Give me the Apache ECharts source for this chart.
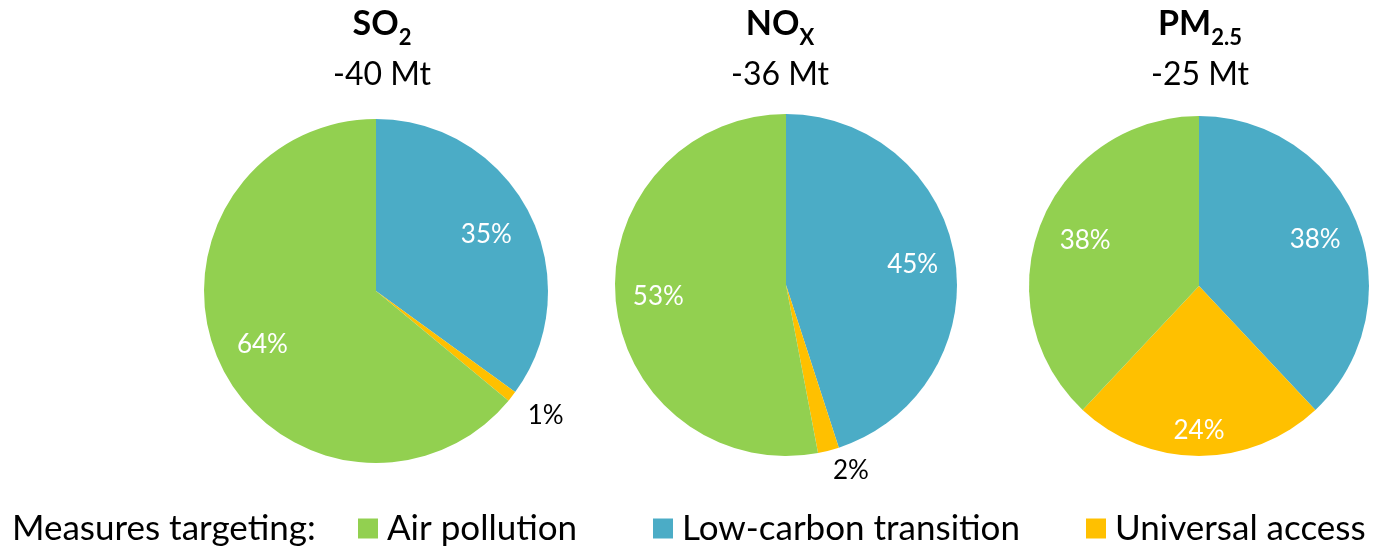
<!DOCTYPE html>
<html>
<head>
<meta charset="utf-8">
<script src="https://cdn.jsdelivr.net/npm/echarts@6/dist/echarts.min.js"></script>
<style>
  html, body { margin: 0; padding: 0; background: #ffffff; }
  #chart { width: 1384px; height: 550px; }
</style>
</head>
<body>
<div id="chart"></div>
<script>
// Measures, in the clockwise order the slices are drawn (from 12 o'clock)
const measures = ['Low-carbon transition', 'Universal access', 'Air pollution'];
const legendNames = ['Air pollution', 'Low-carbon transition', 'Universal access'];
const legendCaption = 'Measures targeting:';

// Pollutant titles: main part, subscript part, total reduction
const pollutantNames = ['SO', 'NO', 'PM'];
const pollutantSubs = ['2', 'X', '2.5'];
const reductions = ['-40 Mt', '-36 Mt', '-25 Mt'];

// Share of each pollutant's reduction by measure (%), same order as `measures`
const so2Shares = [35, 1, 64];
const noxShares = [45, 2, 53];
const pm25Shares = [38, 24, 38];
const shares = [so2Shares, noxShares, pm25Shares];

// ---- styling / layout ----
const FONT = 'Lato, "Open Sans", sans-serif';
const measureColors = {
  'Air pollution': '#92D050',
  'Low-carbon transition': '#4BACC6',
  'Universal access': '#FFC000'
};
const pies = [
  { cx: 376, cy: 291, r: 172, titleX: 382, labelR: [0.72, 1.225, 0.73], labelTurn: [0, -1.4, 0] },
  { cx: 786, cy: 285, r: 171, titleX: 780, labelR: [0.75, 1.15, 0.75], labelTurn: [0, -4.9, 0] },
  { cx: 1199, cy: 286, r: 170, titleX: 1200, labelR: [0.735, 0.85, 0.72], labelTurn: [0, 0, 0] }
];
const legendLefts = [358, 653, 1086];

// Moves each label along its slice's bisector to the wanted distance from the centre
function labelPlacer(p) {
  return function (params) {
    const rect = params.labelRect;
    const lx = rect.x + rect.width / 2;
    const ly = rect.y + rect.height / 2;
    const turn = (p.labelTurn[params.dataIndex] || 0) * Math.PI / 180;
    const ang = Math.atan2(lx - p.cx, -(ly - p.cy)) + turn;
    const dist = p.labelR[params.dataIndex] * p.r;
    return {
      dx: p.cx + dist * Math.sin(ang) - lx,
      dy: p.cy - dist * Math.cos(ang) - ly
    };
  };
}

const titleRich = {
  main: { fontFamily: FONT, fontSize: 34, fontWeight: 'bold', color: '#000', lineHeight: 50 },
  sub: { fontFamily: FONT, fontSize: 22, fontWeight: 'bold', color: '#000', lineHeight: 28, verticalAlign: 'bottom' },
  amt: { fontFamily: FONT, fontSize: 32, fontWeight: 'normal', color: '#000', lineHeight: 52 }
};

const titles = pies.map((p, i) => ({
  text: '{main|' + pollutantNames[i] + '}{sub|' + pollutantSubs[i] + '}\n{amt|' + reductions[i] + '}',
  left: p.titleX,
  top: -1,
  padding: 0,
  textAlign: 'center',
  textStyle: { fontWeight: 'normal', rich: titleRich }
}));
titles.push({
  text: legendCaption,
  left: 12,
  top: 511,
  padding: 0,
  textStyle: { fontFamily: FONT, fontSize: 35, fontWeight: 'normal', color: '#000' }
});

const legends = legendNames.map((name, i) => ({
  data: [name],
  left: legendLefts[i],
  top: 511,
  padding: 0,
  icon: 'rect',
  itemWidth: 20,
  itemHeight: 20,
  selectedMode: false,
  textStyle: { fontFamily: FONT, fontSize: 35, color: '#000', padding: [0, 0, 0, 4] }
}));

const series = pies.map((p, i) => ({
  type: 'pie',
  center: [p.cx, p.cy],
  radius: p.r,
  startAngle: 90,
  clockwise: true,
  avoidLabelOverlap: false,
  silent: true,
  itemStyle: { borderWidth: 0 },
  labelLine: { show: false },
  label: {
    show: true,
    position: 'inside',
    formatter: '{c}%',
    fontFamily: FONT,
    fontSize: 26,
    color: '#fff'
  },
  labelLayout: labelPlacer(p),
  data: measures.map((m, k) => ({
    name: m,
    value: shares[i][k],
    itemStyle: { color: measureColors[m] },
    label: p.labelR[k] > 1 ? { color: '#000' } : undefined
  }))
}));

const chart = echarts.init(document.getElementById('chart'), null, { renderer: 'canvas' });
chart.setOption({
  animation: false,
  backgroundColor: '#ffffff',
  title: titles,
  legend: legends,
  series: series
});
</script>
</body>
</html>
